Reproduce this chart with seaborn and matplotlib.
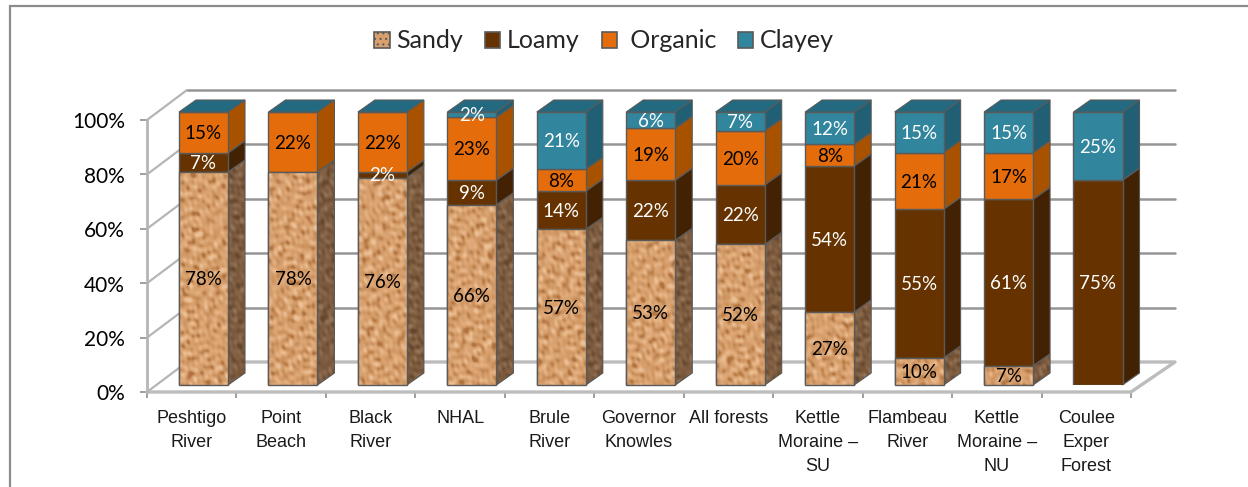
import numpy as np
import pandas as pd
import seaborn as sns
import matplotlib.pyplot as plt
from matplotlib.patches import Patch, Polygon, Rectangle
from matplotlib.colors import LinearSegmentedColormap
from matplotlib.transforms import ScaledTranslation

# values
forests = ["Peshtigo\nRiver", "Point\nBeach", "Black\nRiver", "NHAL", "Brule\nRiver",
           "Governor\nKnowles", "All forests", "Kettle\nMoraine –\nSU", "Flambeau\nRiver",
           "Kettle\nMoraine –\nNU", "Coulee\nExper\nForest"]
sandy = [78, 78, 76, 66, 57, 53, 52, 27, 10, 7, 0]
loamy = [7, 0, 2, 9, 14, 22, 22, 54, 55, 61, 75]
organic = [15, 22, 22, 23, 8, 19, 20, 8, 21, 17, 0]
clayey = [0, 0, 0, 2, 21, 6, 7, 12, 15, 15, 25]
y_ticks = [0, 20, 40, 60, 80, 100]
y_tick_labels = ["0%", "20%", "40%", "60%", "80%", "100%"]

soils = ["Sandy", "Loamy", "Organic", "Clayey"]
front = {"Sandy": "#d9a06e", "Loamy": "#663300", "Organic": "#e46c0a", "Clayey": "#31859c"}
side = {"Sandy": "#7d5b3f", "Loamy": "#432203", "Organic": "#a85200", "Clayey": "#215f74"}
cap_colour = "#236a80"
text_col = {"Sandy": "black", "Loamy": "white", "Organic": "black", "Clayey": "white"}

df = pd.DataFrame({"forest": forests, "Sandy": sandy, "Loamy": loamy, "Organic": organic, "Clayey": clayey})
# the chart is 100% stacked, so rows adding to 101 are scaled down
totals = df[soils].sum(axis=1)
heights = df[soils].div(totals, axis=0) * 100

W, H = 1248, 487
sns.set_theme(style="white")
plt.rcParams["font.family"] = "Lato"
plt.rcParams["hatch.color"] = "#a8683c"
plt.rcParams["hatch.linewidth"] = 0.8
fig = plt.figure(figsize=(W / 100, H / 100), dpi=100)
fig.patch.set_facecolor("white")


def px_axes(x0, y0, x1, y1):
    # axes from pixel corners, y counted from the top of the image
    return fig.add_axes([x0 / W, 1 - y1 / H, (x1 - x0) / W, (y1 - y0) / H])


# only the left and top edges of the frame are inside the crop
fig.add_artist(Rectangle((10 / W, -0.05), 1.05, 1.05 - 6 / H, transform=fig.transFigure,
                         fc="white", ec="#8c8c8c", lw=1.6, zorder=-1))

# axis box: floor front edge and wall scale
ax_box = px_axes(147, 120, 1131, 392)
ax_box.set_xlim(0, 11)
ax_box.set_ylim(0, 100)
ax_box.patch.set_visible(False)
sns.despine(ax=ax_box, top=True, right=True, bottom=True, left=True)
wall_dx = 40 * 11 / 984
wall_dy = 30 * 100 / 272
floor_right_dx = 44 * 11 / 984

for v in y_ticks[1:]:
    ax_box.plot([wall_dx, 11 + floor_right_dx], [v + wall_dy] * 2, color="#959595", lw=1.8, clip_on=False, zorder=1)
for v in y_ticks:
    ax_box.plot([0, wall_dx], [v, v + wall_dy], color="#b5b5b5", lw=1.6, clip_on=False, zorder=1)
ax_box.plot([wall_dx, 11 + floor_right_dx, 11, 0], [wall_dy, wall_dy, 0, 0], color="#bcbcbc", lw=2.4,
            clip_on=False, zorder=1)
ax_box.plot([0, 0], [0, 100], color="#b5b5b5", lw=2, clip_on=False, zorder=1)

ax_box.set_yticks(y_ticks)
ax_box.set_yticklabels(y_tick_labels, fontsize=15, color="black")
ax_box.set_xticks(np.arange(0, 12))
ax_box.set_xticklabels([])
ax_box.set_xticks(np.arange(0.5, 11), minor=True)
ax_box.set_xticklabels(forests, minor=True, fontsize=13, family="Liberation Sans", color="#1a1a1a",
                       linespacing=1.55, va="top")
ax_box.tick_params(axis="x", which="major", length=4, width=1.2, color="#8f8f8f", bottom=True, pad=0)
ax_box.tick_params(axis="x", which="minor", length=0, pad=13)
ax_box.tick_params(axis="y", length=5, width=1.2, color="#8f8f8f", left=True, pad=11)
ax_box.grid(False)
for lab in ax_box.get_yticklabels():
    lab.set_transform(lab.get_transform() + ScaledTranslation(0, -0.5 / 100, fig.dpi_scale_trans))

# bar axes: one category slot is 89.45 px wide, bar fronts run 385 up to 112
ax = px_axes(203.5 - 44.73, 112, 203.5 + 10.5 * 89.45, 385)
ax.set_zorder(2)
ax.patch.set_visible(False)
bar_dx = 17 / 89.45
bar_dy = 12 * 100 / 273

bottom = np.zeros(len(df))
plot_df = heights.assign(forest=df["forest"])
segments = {}
for soil in soils:
    sns.barplot(data=plot_df, x="forest", y=soil, order=forests, bottom=bottom, color=front[soil], saturation=1,
                width=0.548, edgecolor="#5a5a5a", linewidth=1, ax=ax, zorder=3)
    segments[soil] = ax.containers[-1]
    bottom = bottom + heights[soil].to_numpy()
ax.set_xlim(-0.5, 10.5)
ax.set_ylim(0, 100)
ax.set_autoscale_on(False)
ax.axis("off")

# mottled sand texture from overlapping waves in many directions
tx, ty = np.meshgrid(np.arange(984.0), np.arange(273.0))
sand = np.zeros_like(tx)
for k in range(30):
    angle = k * 2.39996
    wavelength = 5 + (k * 0.618 % 1) * 11
    sand += np.sin(2 * np.pi * (tx * np.cos(angle) + ty * np.sin(angle)) / wavelength + k * 1.7)
sand = sand / sand.std()
sand_cmap = LinearSegmentedColormap.from_list("sand", ["#b0723f", "#cf9763", "#dea877", "#ebc096"])
sand_side_cmap = LinearSegmentedColormap.from_list("sand_side", ["#64472f", "#775639", "#846246", "#947356"])


def textured(poly, cmap):
    im = ax.imshow(sand, cmap=cmap, extent=(-0.5, 10.5, 0, 100), aspect="auto", zorder=poly.get_zorder() + 0.1,
                   vmin=-2.4, vmax=2.4, interpolation="bilinear")
    im.set_clip_path(poly)


for soil in soils:
    for i, bar in enumerate(segments[soil]):
        x0, x1 = bar.get_x(), bar.get_x() + bar.get_width()
        b, t = bar.get_y(), bar.get_y() + bar.get_height()
        # every bar is capped in the top series colour, even where that series is zero
        if soil == "Clayey":
            cap = [(x0, 100), (x0 + bar_dx, 100 + bar_dy), (x1 + bar_dx, 100 + bar_dy), (x1, 100)]
            ax.add_patch(Polygon(cap, closed=True, fc=cap_colour, ec="#5a5a5a", lw=0.8, zorder=2.6, clip_on=False))
        if heights[soil].iloc[i] <= 0:
            continue
        pts = [(x1, b), (x1 + bar_dx, b + bar_dy), (x1 + bar_dx, t + bar_dy), (x1, t)]
        face = Polygon(pts, closed=True, fc=side[soil], ec="none", zorder=2, clip_on=False)
        ax.add_patch(face)
        ax.add_patch(Polygon(pts, closed=True, fill=False, ec="#5a5a5a", lw=0.8, zorder=2.5, clip_on=False))
        if soil == "Sandy":
            textured(face, sand_side_cmap)
            textured(bar, sand_cmap)
            ax.add_patch(Rectangle((x0, b), x1 - x0, t - b, fill=False, ec="#5a5a5a", lw=1, zorder=3.5, clip_on=False))
        ax.text((x0 + x1) / 2, (b + t) / 2 - 0.4, f"{df[soil].iloc[i]}%", ha="center", va="center", fontsize=13.5,
                color=text_col[soil], zorder=6, clip_on=False)

handles = [Patch(fc=front[s], ec="#5a5a5a", lw=1.2, hatch="..." if s == "Sandy" else None) for s in soils]
fig.legend(handles, ["Sandy", "Loamy", " Organic", "Clayey"], loc="center", bbox_to_anchor=(604 / W, 1 - 41 / H),
           ncol=4, frameon=False, handlelength=0.62, handleheight=0.62, handletextpad=0.26,
           columnspacing=0.88, prop={"family": "Lato", "size": 18})

fig.savefig("out.png", dpi=100)
